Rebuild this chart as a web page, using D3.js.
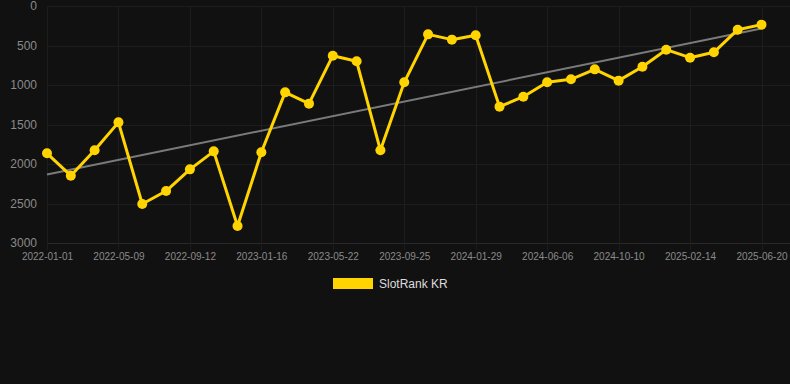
<!DOCTYPE html>
<html>
<head>
<meta charset="utf-8">
<script src="https://cdn.jsdelivr.net/npm/d3@7"></script>
<style>
  html, body { margin: 0; padding: 0; background: #111111; }
  svg { display: block; font-family: Arial, "Liberation Sans", sans-serif; }
</style>
</head>
<body>
<div id="chart"></div>
<script>
// DATA
const dates = [
  '2022-01-01', '2022-02-12', '2022-03-26', '2022-05-09', '2022-06-20', '2022-08-01',
  '2022-09-12', '2022-10-24', '2022-12-05', '2023-01-16', '2023-02-27', '2023-04-10',
  '2023-05-22', '2023-07-03', '2023-08-14', '2023-09-25', '2023-11-06', '2023-12-18',
  '2024-01-29', '2024-03-11', '2024-04-24', '2024-06-06', '2024-07-18', '2024-08-29',
  '2024-10-10', '2024-11-21', '2025-01-03', '2025-02-14', '2025-03-28', '2025-05-09',
  '2025-06-20'
];
const ranks = [
  1865, 2148, 1827, 1473, 2506, 2342, 2068, 1840, 2785, 1852, 1093, 1236,
  629, 700, 1827, 966, 359, 426, 371, 1274, 1148, 966, 928, 802,
  945, 768, 553, 654, 586, 300, 236
];
const xTickLabels = [
  '2022-01-01', '2022-05-09', '2022-09-12', '2023-01-16', '2023-05-22', '2023-09-25',
  '2024-01-29', '2024-06-06', '2024-10-10', '2025-02-14', '2025-06-20'
];
const yTicks = [0, 500, 1000, 1500, 2000, 2500, 3000];
const seriesName = 'SlotRank KR';

// SETTINGS
const width = 790;
const height = 384;
const margin = { top: 6, right: 5, bottom: 141, left: 47 };
const lineColor = '#ffd400';
const trendColor = '#7a7a7a';
const gridColor = '#1d1d1d';
const baseColor = '#2a2a2a';
const textColor = '#8a8a8a';

const svg = d3.select('#chart')
  .append('svg')
  .attr('width', width)
  .attr('height', height);

svg.append('rect')
  .attr('width', width)
  .attr('height', height)
  .attr('fill', '#111111');

// SCALES
const x = d3.scalePoint()
  .domain(dates)
  .range([margin.left, 761.5]);

const y = d3.scaleLinear()
  .domain([0, 3000])
  .range([margin.top, height - margin.bottom]);

// GRID
const grid = svg.append('g');
grid.selectAll('.hgrid')
  .data(yTicks)
  .enter().append('line')
    .attr('x1', margin.left)
    .attr('x2', width)
    .attr('y1', d => Math.round(y(d)) + 0.5)
    .attr('y2', d => Math.round(y(d)) + 0.5)
    .attr('stroke', d => d === 3000 ? baseColor : gridColor)
    .attr('stroke-width', 1);

grid.selectAll('.vgrid')
  .data(xTickLabels)
  .enter().append('line')
    .attr('x1', d => Math.round(x(d)) + 0.5)
    .attr('x2', d => Math.round(x(d)) + 0.5)
    .attr('y1', y(0))
    .attr('y2', y(3000) + 7)
    .attr('stroke', gridColor)
    .attr('stroke-width', 1);

// AXES
const xAxis = d3.axisBottom(x)
  .tickValues(xTickLabels)
  .tickSize(0)
  .tickPadding(10);

const yAxis = d3.axisLeft(y)
  .tickValues(yTicks)
  .tickFormat(d3.format('d'))
  .tickSize(0)
  .tickPadding(10);

const xAxisGroup = svg.append('g')
  .attr('transform', `translate(0, ${y(3000)})`)
  .call(xAxis);

const yAxisGroup = svg.append('g')
  .attr('transform', `translate(${margin.left}, 0)`)
  .call(yAxis);

xAxisGroup.select('.domain').remove();
yAxisGroup.select('.domain').remove();

xAxisGroup.selectAll('text')
  .attr('fill', textColor)
  .style('font-size', '10px');

yAxisGroup.selectAll('text')
  .attr('fill', textColor)
  .style('font-size', '12px');

// TREND LINE (least squares over point index)
const n = ranks.length;
const meanI = d3.mean(ranks, (d, i) => i);
const meanV = d3.mean(ranks);
const slope = d3.sum(ranks, (d, i) => (i - meanI) * (d - meanV)) /
  d3.sum(ranks, (d, i) => (i - meanI) * (i - meanI));
const intercept = meanV - slope * meanI;

svg.append('line')
  .attr('x1', x(dates[0]))
  .attr('y1', y(intercept))
  .attr('x2', x(dates[n - 1]))
  .attr('y2', y(intercept + slope * (n - 1)))
  .attr('stroke', trendColor)
  .attr('stroke-width', 2);

// MAIN LINE
const line = d3.line()
  .x((d, i) => x(dates[i]))
  .y(d => y(d));

svg.append('path')
  .datum(ranks)
  .attr('fill', 'none')
  .attr('stroke', lineColor)
  .attr('stroke-width', 3)
  .attr('stroke-linejoin', 'round')
  .attr('d', line);

svg.selectAll('.pt')
  .data(ranks)
  .enter().append('circle')
    .attr('cx', (d, i) => x(dates[i]))
    .attr('cy', d => y(d))
    .attr('r', 5)
    .attr('fill', lineColor);

// LEGEND
const legend = svg.append('g')
  .attr('transform', 'translate(333, 278)');

legend.append('rect')
  .attr('width', 40)
  .attr('height', 11)
  .attr('fill', lineColor);

legend.append('text')
  .attr('x', 46)
  .attr('y', 6)
  .attr('dy', '0.35em')
  .attr('fill', '#dddddd')
  .style('font-size', '12px')
  .text(seriesName);
</script>
</body>
</html>
